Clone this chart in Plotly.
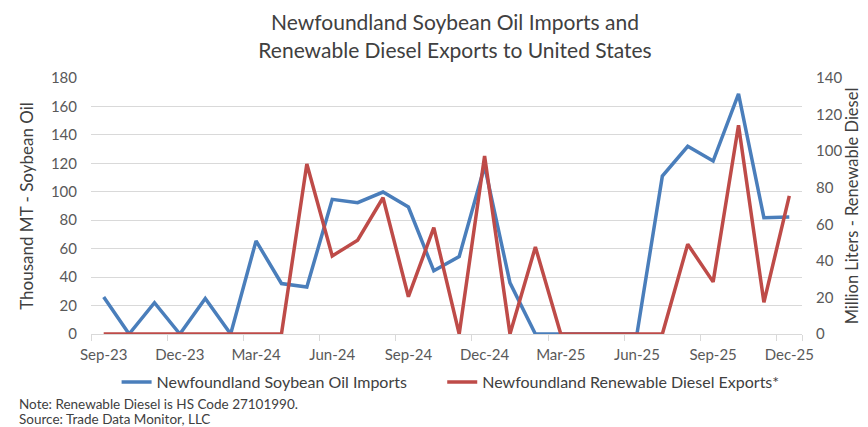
import plotly.graph_objects as go

months = ["Sep-23", "Oct-23", "Nov-23", "Dec-23", "Jan-24", "Feb-24", "Mar-24", "Apr-24",
          "May-24", "Jun-24", "Jul-24", "Aug-24", "Sep-24", "Oct-24", "Nov-24", "Dec-24",
          "Jan-25", "Feb-25", "Mar-25", "Apr-25", "May-25", "Jun-25", "Jul-25", "Aug-25",
          "Sep-25", "Oct-25", "Nov-25", "Dec-25"]

soybean_oil_imports = [26, 0, 22, 0, 25, 0, 65.5, 35.5, 33, 94.7, 92.3, 99.8, 89.3, 44.4,
                       54.5, 118, 36, 0, 0, 0, 0, 0, 111, 132, 121.6, 168.8, 81.8, 82.3]

renewable_diesel_exports = [0, 0, 0, 0, 0, 0, 0, 0, 93, 42.7, 51.3, 74.5, 20.4, 58.2,
                            0, 97.3, 0, 47.6, 0, 0, 0, 0, 0, 49.1, 28.5, 114.2, 17.3, 75.5]

tick_labels = months[::3]

BLUE = "#4A7EBB"
RED = "#BE4B48"
FONT = "Lato"
TXT = "#595959"
DARK = "#404040"

fig = go.Figure()
fig.add_trace(go.Scatter(x=months, y=soybean_oil_imports, mode="lines",
                         name="Newfoundland Soybean Oil Imports",
                         line=dict(color=BLUE, width=3.5), legend="legend"))
fig.add_trace(go.Scatter(x=months, y=renewable_diesel_exports, mode="lines",
                         name="Newfoundland Renewable Diesel Exports*",
                         line=dict(color=RED, width=3.5), yaxis="y2", legend="legend2"))

legend_common = dict(orientation="h", y=-0.1875, yanchor="middle", xanchor="left",
                     font=dict(size=16, color=DARK), bgcolor="rgba(0,0,0,0)")

fig.update_layout(
    width=868, height=427,
    margin=dict(l=83, r=74, t=70, b=101, autoexpand=False),
    paper_bgcolor="white", plot_bgcolor="white",
    font=dict(family=FONT, color=TXT, size=15),
    title=dict(text="Newfoundland Soybean Oil Imports and<br>Renewable Diesel Exports to United States",
               x=0.515, xanchor="center", y=0.948, yanchor="middle",
               font=dict(family=FONT, size=21, color=DARK)),
    xaxis=dict(type="category", tickmode="array", tickvals=tick_labels, ticktext=tick_labels,
               tickson="boundaries", ticks="outside", ticklen=6, tickcolor="#D9D9D9",
               showline=True, linecolor="#D9D9D9", linewidth=1, showgrid=False,
               tickangle=0, automargin=False, ticklabelstandoff=7,
               range=[-0.5, 27.5], tickfont=dict(size=15, color=TXT)),
    yaxis=dict(range=[0, 180], dtick=20, showgrid=True, gridcolor="#D9D9D9", gridwidth=1,
               zeroline=False, ticks="", ticklabelstandoff=13, automargin=False,
               title=dict(text="Thousand MT - Soybean Oil", standoff=12,
                          font=dict(size=17, color=DARK)),
               tickfont=dict(size=15, color=TXT)),
    yaxis2=dict(range=[0, 140], dtick=20, overlaying="y", side="right", showgrid=False,
                zeroline=False, ticks="", ticklabelstandoff=13, automargin=False,
                title=dict(text="Million Liters - Renewable Diesel", standoff=1,
                           font=dict(size=16.5, color=DARK)),
                tickfont=dict(size=15, color=TXT)),
    legend=dict(x=0.036, **legend_common),
    legend2=dict(x=0.494, **legend_common),
    showlegend=True,
)

fig.add_annotation(text="Note: Renewable Diesel is HS Code 27101990.", xref="paper", yref="paper",
                   x=-0.104, y=-0.273, xanchor="left", yanchor="middle", showarrow=False,
                   font=dict(size=13.5, color=DARK))
fig.add_annotation(text="Source: Trade Data Monitor, LLC", xref="paper", yref="paper",
                   x=-0.104, y=-0.332, xanchor="left", yanchor="middle", showarrow=False,
                   font=dict(size=13.5, color=DARK))

fig.write_html("out.html")
